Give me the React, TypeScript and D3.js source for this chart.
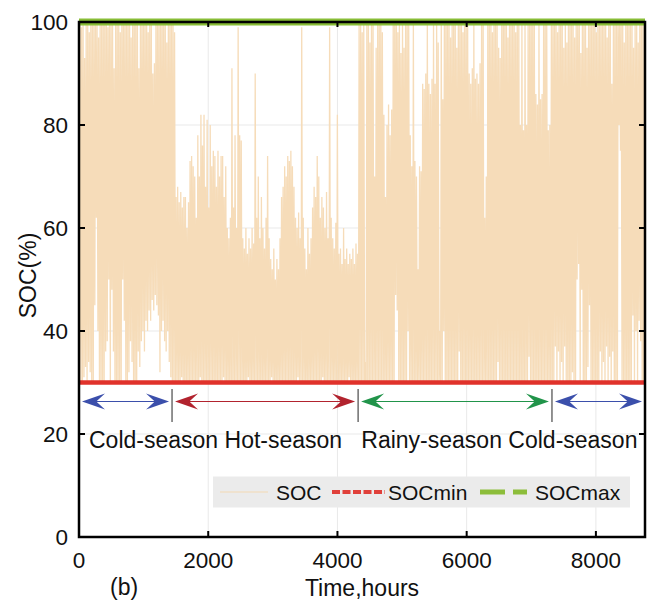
import React from "react";
import * as d3 from "d3";

// Hourly SOC over one year, summarised as one charge/discharge cycle per day:
// the daily low (trough) and the daily high (peak), in percent.
const coldPeaksA = [
  100, 99, 100, 93, 100, 100, 98, 100, 100, 100,
  100, 100, 97, 100, 100, 100, 100, 100, 99, 100,
  100, 100, 91, 100, 100, 100, 98, 100, 100, 100,
  100, 100, 100, 97, 100, 100, 100, 100, 91, 100,
  100, 100, 100, 100, 98, 100, 100, 90, 92, 100,
  100, 100, 100, 100, 100, 100, 96, 100, 100, 100,
];
const coldTroughsA = [
  30, 30, 30, 31, 33, 30, 34, 32, 30, 30,
  45, 62, 40, 30, 30, 30, 30, 36, 38, 50,
  30, 48, 36, 30, 30, 30, 30, 30, 50, 42,
  30, 30, 32, 38, 34, 30, 30, 30, 36, 33,
  38, 40, 36, 42, 40, 44, 42, 46, 44, 47,
  45, 43, 32, 40, 42, 38, 36, 40, 34, 31,
];
const hotPeaks = [
  100, 98, 66, 68, 65, 67, 64, 66, 66, 60,
  65, 73, 74, 72, 70, 62, 78, 70, 82, 76,
  82, 68, 81, 64, 80, 72, 75, 74, 68, 75,
  70, 74, 74, 66, 72, 60, 58, 62, 91, 64,
  78, 60, 99, 78, 77, 58, 56, 60, 55, 58,
  56, 60, 57, 90, 62, 70, 58, 66, 60, 56,
  62, 74, 58, 54, 52, 56, 50, 54, 52, 58,
  66, 68, 72, 70, 74, 73, 75, 72, 68, 62,
  60, 63, 58, 99, 62, 56, 52, 60, 55, 58,
  64, 68, 66, 74, 70, 62, 66, 64, 60, 67,
  58, 99, 62, 58, 56, 61, 82, 55, 56, 53,
  60, 54, 56, 53, 55, 54, 56, 53, 57, 55,
];
const hotTroughs = [
  30, 30, 30, 30, 30, 30, 31, 30, 30, 30,
  30, 30, 30, 30, 30, 30, 30, 30, 31, 30,
  30, 30, 30, 30, 30, 30, 30, 30, 30, 30,
  30, 30, 30, 31, 30, 30, 30, 30, 30, 30,
  30, 30, 30, 30, 30, 30, 30, 30, 30, 31,
  30, 30, 30, 30, 30, 30, 30, 30, 30, 30,
  30, 30, 30, 30, 31, 30, 30, 30, 30, 30,
  30, 30, 30, 30, 30, 30, 30, 30, 30, 30,
  30, 31, 30, 30, 30, 30, 30, 30, 30, 30,
  30, 30, 30, 30, 30, 30, 30, 31, 30, 30,
  30, 30, 30, 30, 30, 30, 30, 30, 30, 30,
  30, 30, 30, 30, 31, 30, 30, 30, 30, 30,
];
const rainyPeaks = [
  100, 100, 98, 100, 34, 100, 100, 96, 100, 100,
  70, 95, 100, 100, 100, 98, 82, 66, 80, 84,
  78, 83, 100, 100, 100, 98, 100, 94, 100, 95,
  100, 100, 100, 78, 72, 100, 73, 70, 52, 72,
  71, 88, 87, 90, 100, 88, 86, 89, 100, 88,
  100, 96, 40, 100, 85, 100, 100, 100, 100, 97,
  100, 100, 100, 95, 100, 100, 100, 98, 100, 100,
  100, 90, 88, 91, 100, 89, 90, 88, 92, 100,
  100, 62, 70, 100, 100, 100, 98, 100, 100, 100,
  95, 93, 100, 100, 100, 100, 97, 100, 100, 100,
  100, 98, 100, 100, 80, 100, 79, 100, 80, 100,
  100, 100, 100, 100, 86, 84, 100, 85, 86, 100,
  100, 100, 79, 80, 100,
];
const rainyTroughs = [
  30, 30, 30, 30, 30, 30, 30, 30, 30, 30,
  30, 30, 30, 30, 30, 30, 30, 30, 30, 30,
  30, 30, 30, 30, 47, 44, 30, 30, 30, 30,
  30, 30, 40, 30, 30, 30, 30, 30, 30, 30,
  30, 30, 30, 30, 30, 30, 30, 30, 30, 30,
  30, 30, 30, 30, 30, 40, 30, 30, 30, 30,
  30, 30, 30, 30, 30, 36, 30, 30, 30, 30,
  30, 30, 30, 30, 30, 30, 30, 30, 30, 30,
  30, 30, 30, 30, 30, 30, 30, 30, 30, 30,
  34, 30, 30, 30, 30, 30, 30, 30, 30, 30,
  30, 30, 30, 30, 30, 30, 30, 30, 30, 30,
  35, 30, 30, 30, 30, 30, 30, 30, 30, 30,
  30, 30, 30, 30, 30,
];
const coldPeaksB = [
  100, 100, 100, 98, 100, 100, 100, 95, 100, 96,
  100, 100, 100, 100, 97, 100, 100, 100, 94, 100,
  100, 100, 95, 100, 100, 100, 100, 100, 98, 100,
  100, 100, 100, 100, 100, 97, 100, 100, 88, 100,
  100, 100, 100, 100, 100, 100, 96, 100, 100, 100,
  100, 100, 95, 100, 100, 96, 100, 100, 100, 100,
];
const coldTroughsB = [
  30, 30, 37, 30, 36, 30, 34, 30, 37, 30,
  30, 30, 30, 32, 30, 30, 50, 53, 30, 48,
  30, 30, 30, 33, 45, 30, 30, 30, 30, 30,
  30, 36, 30, 34, 30, 37, 30, 35, 30, 36,
  30, 30, 30, 80, 75, 30, 30, 30, 30, 30,
  30, 30, 43, 30, 40, 30, 42, 38, 30, 30,
];

// Axis ticks and limits
const xTicks = [0, 2000, 4000, 6000, 8000];
const yTicks = [0, 20, 40, 60, 80, 100];
const hoursPerYear = 8760;
const socMin = 30;
const socMax = 100;

// Seasons (boundaries in hours)
const seasonBounds = [0, 1440, 4320, 7320, 8760];
const seasonColors = ["#3b4fab", "#b2232e", "#21944a", "#3b4fab"];
const seasonText = "Cold-season Hot-season   Rainy-season Cold-season";

const FONT = "'Liberation Sans', Arial, Helvetica, sans-serif";
const SOC_COLOR = "#f6dcb9";

const x = d3.scaleLinear().domain([0, hoursPerYear]).range([79, 645]);
const y = d3.scaleLinear().domain([0, 100]).range([537, 22]);

function buildSeries() {
  const peaks = [...coldPeaksA, ...hotPeaks, ...rainyPeaks, ...coldPeaksB];
  const troughs = [...coldTroughsA, ...hotTroughs, ...rainyTroughs, ...coldTroughsB];
  const pts: [number, number][] = [];
  peaks.forEach((p, d) => {
    pts.push([d * 24 + 5, troughs[d]]);
    pts.push([d * 24 + 15, p]);
  });
  return pts;
}

function Arrowhead({ tipX, tipY, dir, color }: { tipX: number; tipY: number; dir: 1 | -1; color: string }) {
  const L = 23;
  const Hh = 8;
  const bx = tipX - dir * L;
  const nx = tipX - dir * L * 0.62;
  return (
    <path
      d={`M${tipX},${tipY} L${bx},${tipY - Hh} L${nx},${tipY} L${bx},${tipY + Hh} Z`}
      fill={color}
    />
  );
}

export default function App() {
  const series = buildSeries();
  const line = d3
    .line<[number, number]>()
    .x((d) => x(d[0]))
    .y((d) => y(d[1]));

  const [x0, x1] = x.range();
  const [yb, yt] = y.range();
  const arrowY = 401.5;

  return (
    <svg
      width={654}
      height={602}
      style={{ position: "absolute", left: 0, top: 0, background: "#fff" }}
      fontFamily={FONT}
    >
      {/* grid */}
      {xTicks.slice(1).map((t) => (
        <line key={"gx" + t} x1={x(t)} x2={x(t)} y1={yt} y2={yb} stroke="#e9e9e9" strokeWidth={1} />
      ))}
      {yTicks.slice(1, -1).map((t) => (
        <line key={"gy" + t} x1={x0} x2={x1} y1={y(t)} y2={y(t)} stroke="#e9e9e9" strokeWidth={1} />
      ))}

      {/* SOC series */}
      <path d={line(series) || ""} fill="none" stroke={SOC_COLOR} strokeWidth={1.3} />

      {/* limits */}
      <line x1={x0} x2={x1} y1={y(socMin)} y2={y(socMin)} stroke="#e0322b" strokeWidth={4.5} />
      <line x1={x0} x2={x1} y1={y(socMax)} y2={y(socMax)} stroke="#88bd36" strokeWidth={7} />

      {/* seasons */}
      {seasonColors.map((c, i) => {
        const a = x(seasonBounds[i]) + 3;
        const b = x(seasonBounds[i + 1]) - 3;
        return (
          <g key={"s" + i}>
            <line x1={a + 10} x2={b - 10} y1={arrowY} y2={arrowY} stroke={c} strokeWidth={1.2} />
            <Arrowhead tipX={a} tipY={arrowY} dir={-1} color={c} />
            <Arrowhead tipX={b} tipY={arrowY} dir={1} color={c} />
          </g>
        );
      })}
      {seasonBounds.slice(1, -1).map((h) => (
        <line key={"sep" + h} x1={x(h)} x2={x(h)} y1={389} y2={422} stroke="#6e6e6e" strokeWidth={1.5} />
      ))}
      <text x={89} y={448} fontSize={23} fill="#111" style={{ whiteSpace: "pre" }}>
        {seasonText}
      </text>

      {/* legend */}
      <rect x={213} y={476.5} width={417} height={31} fill="#ebebeb" />
      <line x1={220} x2={268} y1={492} y2={492} stroke="#efe2cf" strokeWidth={2} />
      <text x={276} y={499.5} fontSize={21} fill="#111">SOC</text>
      <line x1={332} x2={385} y1={492} y2={492} stroke="#e0403a" strokeWidth={4} strokeDasharray="8 2.5" />
      <text x={388} y={499.5} fontSize={21} fill="#111">SOCmin</text>
      <line x1={480} x2={527} y1={492} y2={492} stroke="#8cbd3a" strokeWidth={5} strokeDasharray="25 8 14 100" />
      <text x={535} y={499.5} fontSize={21} fill="#111">SOCmax</text>

      {/* frame */}
      <rect x={x0} y={yt} width={x1 - x0} height={yb - yt} fill="none" stroke="#000" strokeWidth={2.5} />
      {xTicks.slice(1).map((t) => (
        <g key={"tx" + t}>
          <line x1={x(t)} x2={x(t)} y1={yb} y2={yb - 6} stroke="#000" strokeWidth={2} />
          <line x1={x(t)} x2={x(t)} y1={yt} y2={yt + 5} stroke="#000" strokeWidth={2} />
        </g>
      ))}
      {yTicks.slice(1, -1).map((t) => (
        <g key={"ty" + t}>
          <line x1={x0} x2={x0 + 6} y1={y(t)} y2={y(t)} stroke="#000" strokeWidth={2} />
          <line x1={x1} x2={x1 - 6} y1={y(t)} y2={y(t)} stroke="#000" strokeWidth={2} />
        </g>
      ))}

      {/* tick labels */}
      {xTicks.map((t) => (
        <text key={"lx" + t} x={x(t)} y={568} fontSize={22.5} textAnchor="middle" fill="#111">
          {t}
        </text>
      ))}
      {yTicks.map((t) => (
        <text key={"ly" + t} x={68} y={y(t)} dy="0.36em" fontSize={22.5} textAnchor="end" fill="#111">
          {t}
        </text>
      ))}

      {/* axis titles */}
      <text x={(x0 + x1) / 2} y={596} fontSize={23} textAnchor="middle" fill="#111">
        Time,hours
      </text>
      <text x={110} y={595} fontSize={23} fill="#111">(b)</text>
      <text
        transform={`translate(36, ${(yt + yb) / 2 - 4}) rotate(-90)`}
        fontSize={23}
        textAnchor="middle"
        fill="#111"
      >
        SOC(%)
      </text>
    </svg>
  );
}
